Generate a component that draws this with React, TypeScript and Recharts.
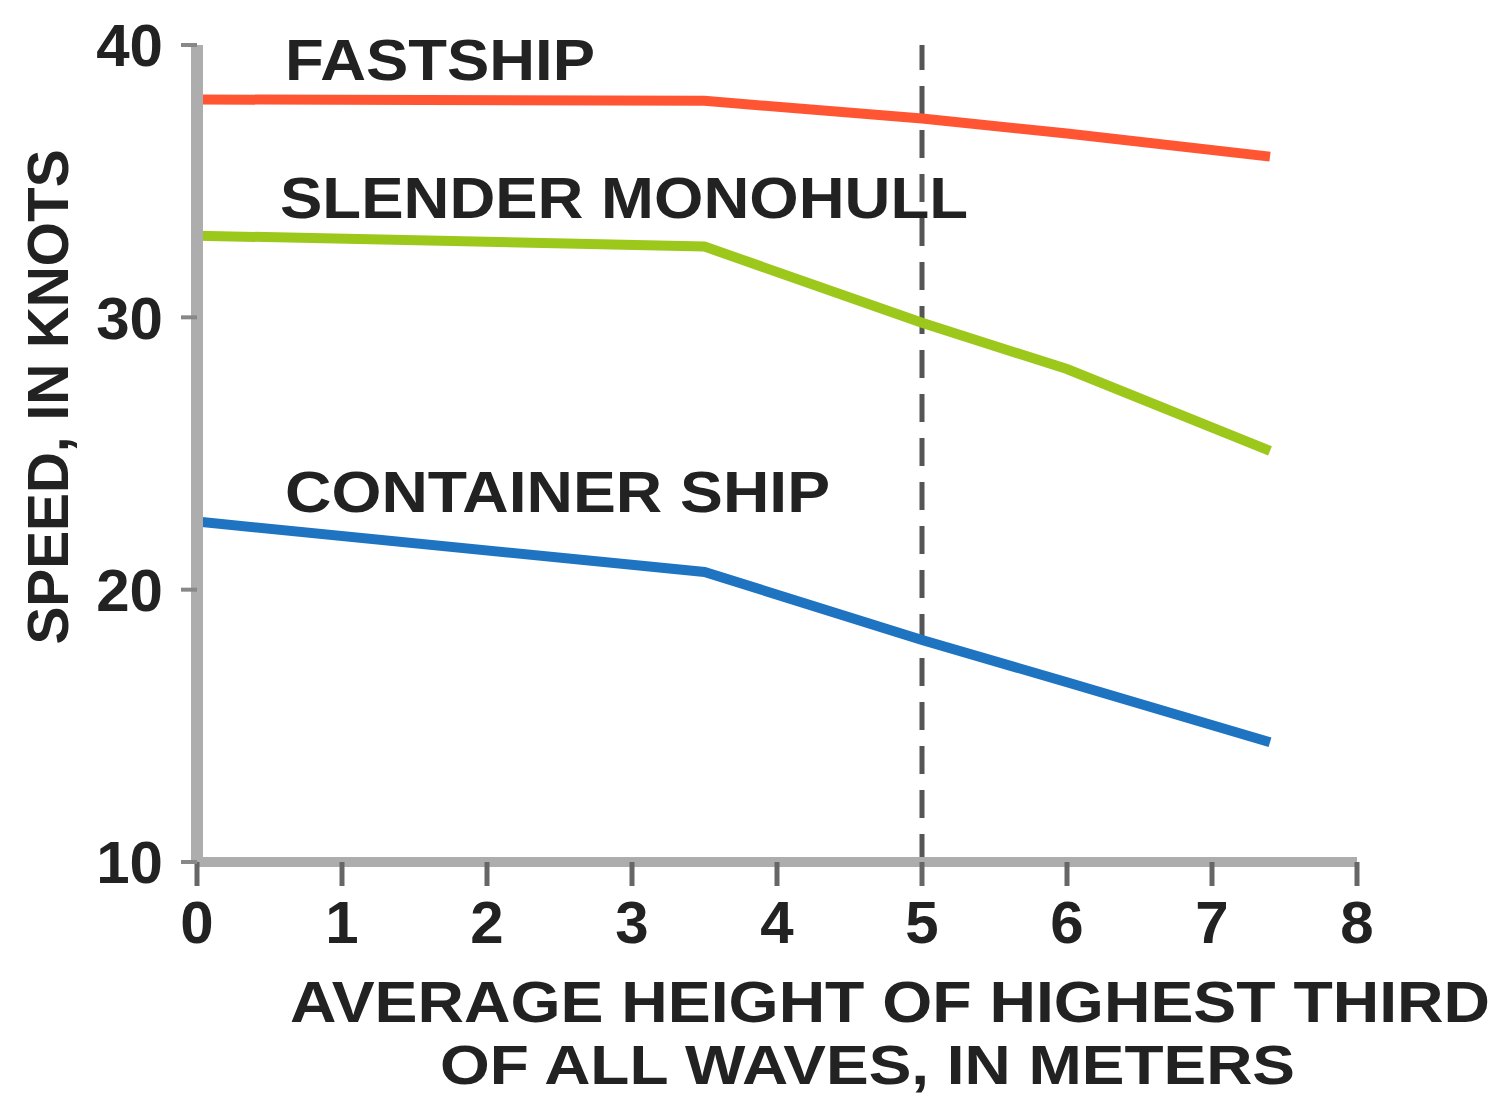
import React from 'react';
import { LineChart, Line, XAxis, YAxis, ReferenceLine } from 'recharts';

// wave height (m) where the curves bend
const waveHeights = [0, 3.5, 5, 6, 7.4];
const fastship = [38.0, 37.95, 37.3, 36.75, 35.9];
const slenderMonohull = [33.0, 32.6, 29.8, 28.1, 25.1];
const containerShip = [22.5, 20.65, 18.15, 16.6, 14.4];

const xTicks = [0, 1, 2, 3, 4, 5, 6, 7, 8];
const yTicks = [10, 20, 30, 40];

const seriesLabels = ['FASTSHIP', 'SLENDER MONOHULL', 'CONTAINER SHIP'];
const xTitle = ['AVERAGE HEIGHT OF HIGHEST THIRD', 'OF ALL WAVES, IN METERS'];
const yTitle = 'SPEED, IN KNOTS';

const chartData = waveHeights.map((x, i) => ({
  x,
  fastship: fastship[i],
  slender: slenderMonohull[i],
  container: containerShip[i],
}));

const FONT = '"Liberation Sans", Arial, Helvetica, sans-serif';
const INK = '#222';

const tickStyle = { fontFamily: FONT, fontSize: 60, fontWeight: 700, fill: INK };

const App: React.FC = () => {
  return (
    <div style={{ position: 'relative', width: 1504, height: 1097, background: '#fff' }}>
      <style>{'body{margin:0}'}</style>
      <LineChart
        width={1504}
        height={1097}
        data={chartData}
        margin={{ top: 45, right: 147, bottom: 0, left: 0 }}
      >
        <XAxis
          type="number"
          dataKey="x"
          domain={[0, 8]}
          ticks={xTicks}
          interval={0}
          axisLine={{ stroke: '#adadad', strokeWidth: 10 }}
          tickLine={{ stroke: '#666', strokeWidth: 5 }}
          tickSize={24}
          tickMargin={14}
          tick={tickStyle}
          height={235}
        />
        <YAxis
          type="number"
          domain={[10, 40]}
          ticks={yTicks}
          interval={0}
          width={197}
          axisLine={{ stroke: '#adadad', strokeWidth: 12 }}
          tickLine={{ stroke: '#888', strokeWidth: 4 }}
          tickSize={16}
          tickMargin={18}
          tick={tickStyle}
        />
        <ReferenceLine x={5} stroke="#555" strokeWidth={5} strokeDasharray="28 16" />
        <Line dataKey="fastship" stroke="#ff5533" strokeWidth={10} dot={false} isAnimationActive={false} />
        <Line dataKey="slender" stroke="#9cc81c" strokeWidth={10} dot={false} isAnimationActive={false} />
        <Line dataKey="container" stroke="#1f74c2" strokeWidth={10} dot={false} isAnimationActive={false} />
      </LineChart>
      <svg
        width={1504}
        height={1097}
        style={{ position: 'absolute', left: 0, top: 0, pointerEvents: 'none' }}
        fontFamily={FONT}
        fontWeight={700}
        fill={INK}
        fontSize={58}
      >
        <text x={285} y={80} textLength={310} lengthAdjust="spacingAndGlyphs">{seriesLabels[0]}</text>
        <text x={280} y={218} textLength={688} lengthAdjust="spacingAndGlyphs">{seriesLabels[1]}</text>
        <text x={285} y={512} textLength={545} lengthAdjust="spacingAndGlyphs">{seriesLabels[2]}</text>
        <text x={290} y={1022} fontSize={57} textLength={1200} lengthAdjust="spacingAndGlyphs">{xTitle[0]}</text>
        <text x={440} y={1084} fontSize={55} textLength={855} lengthAdjust="spacingAndGlyphs">{xTitle[1]}</text>
        <text
          x={0}
          y={0}
          transform="translate(68,397) rotate(-90)"
          textAnchor="middle"
          textLength={495}
          lengthAdjust="spacingAndGlyphs"
        >
          {yTitle}
        </text>
      </svg>
    </div>
  );
};

export default App;
